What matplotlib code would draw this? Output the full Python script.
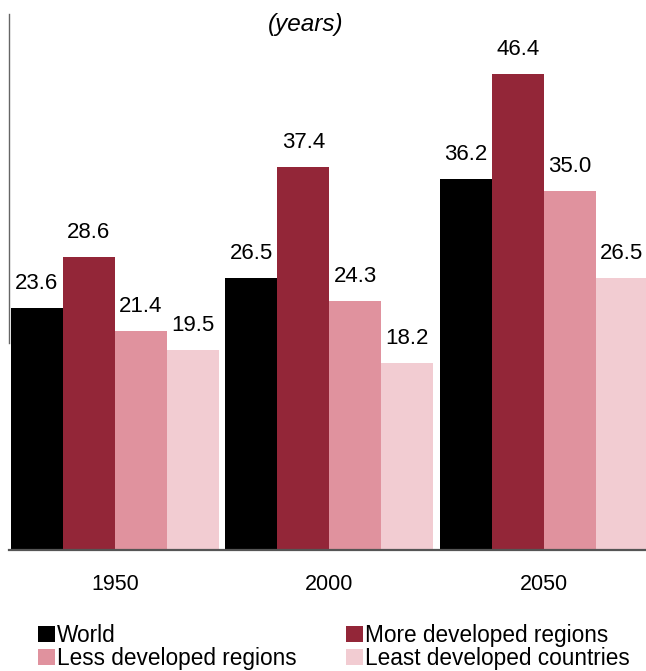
import matplotlib
matplotlib.use("Agg")
from matplotlib import pyplot as plt
import numpy as np

plt.rcParams['font.family'] = ['Liberation Sans', 'DejaVu Sans']

years = ["1950", "2000", "2050"]
series = ["World", "More developed regions", "Less developed regions", "Least developed countries"]
world = [23.6, 26.5, 36.2]
more_developed = [28.6, 37.4, 46.4]
less_developed = [21.4, 24.3, 35.0]
least_developed = [19.5, 18.2, 26.5]
colors = ["#000000", "#932638", "#e0929e", "#f2ccd2"]

W, H = 646, 671
fig = plt.figure(figsize=(W / 100, H / 100), dpi=100)
ax = fig.add_axes([9 / W, (H - 550) / H, 637 / W, 536 / H])

values = [world, more_developed, less_developed, least_developed]
x = np.arange(len(years))
width = 0.2424
bars = []
for i, vals in enumerate(values):
    b = ax.bar(x + (i - 1.5) * width, vals, width, color=colors[i], label=series[i])
    bars.append(b)
    for xi, v in zip(x + (i - 1.5) * width, vals):
        ax.annotate(f"{v:.1f}", (xi, v), xytext=(0, 13.7), textcoords="offset points",
                    ha="center", va="baseline", fontsize=16)

ax.set_xlim(-0.494, 2.476)
ax.set_ylim(0, 52.3)
ax.set_xticks(x)
ax.set_xticklabels(years, fontsize=15.5)
ax.tick_params(axis='x', length=0, pad=17)
ax.set_yticks([])
for side in ["top", "right"]:
    ax.spines[side].set_visible(False)
ax.spines["bottom"].set_color("#555555")
ax.spines["bottom"].set_linewidth(1.6)
ax.spines["left"].set_color("#666666")
ax.spines["left"].set_linewidth(1.0)
ax.spines["left"].set_bounds(20.2, 52.3)

fig.text(306 / W, 1 - 25 / H, "(years)", ha="center", va="center", fontsize=17.5, style="italic")

# legend reads row by row: World, More / Less, Least
handles = [bars[0], bars[2], bars[1], bars[3]]
labels = [series[0], series[2], series[1], series[3]]
fig.legend(handles, labels, loc="upper left", bbox_to_anchor=(38 / W, 1 - 624 / H),
           ncol=2, frameon=False, fontsize=16.3, handlelength=0.75, handleheight=0.75,
           handletextpad=0.08, columnspacing=2.2, labelspacing=0.0, borderpad=0, borderaxespad=0)

fig.savefig("out.png", dpi=100)
